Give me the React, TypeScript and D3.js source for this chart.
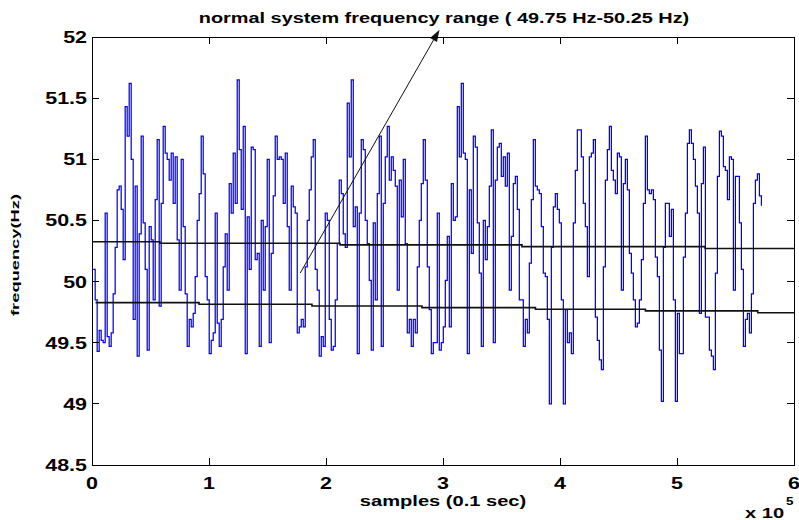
import React from "react";
import * as d3 from "d3";

// frequency samples, one every ~1710 samples
const freqHz = [
  50.10, 49.85, 49.43, 49.60, 49.52, 49.50, 50.56, 49.55, 49.47, 49.58,
  49.90, 50.28, 50.75, 50.78, 50.59, 50.18, 51.43, 51.19, 51.62, 51.00,
  49.69, 50.78, 49.39, 50.39, 51.19, 50.48, 50.10, 49.44, 50.45, 50.34,
  49.85, 50.67, 51.16, 49.80, 50.64, 51.27, 51.05, 51.00, 50.83, 51.05,
  50.64, 51.02, 50.34, 49.93, 51.00, 50.45, 49.90, 49.47, 49.69, 49.63,
  49.74, 50.04, 50.50, 50.72, 51.19, 50.88, 50.04,
  49.85, 49.41, 49.52, 49.58, 50.56, 49.66, 49.47, 49.69, 50.12, 50.39,
  49.93, 50.80, 50.56, 51.05, 50.64, 51.65, 51.08, 50.59, 51.27, 49.41,
  50.53, 50.10, 51.10, 51.08, 50.18, 50.23, 49.47, 50.50, 49.93, 50.45,
  51.00, 49.50, 50.23, 50.70, 51.19, 51.00, 51.02, 51.00, 50.64, 51.05,
  50.45, 49.93, 50.78, 50.61, 50.56, 49.58, 49.63, 49.69, 49.63, 50.12,
  50.50, 50.75, 51.02, 51.16, 50.10, 49.93,
  49.39, 49.55, 49.47, 50.56, 50.50, 49.69, 49.44, 49.47, 49.85, 50.31,
  50.83, 50.72, 50.39, 50.28, 51.46, 51.02, 51.65, 50.45, 50.61, 49.41,
  50.56, 51.16, 51.08, 50.50, 50.31, 50.01, 49.44, 50.48, 49.85, 50.72,
  51.19, 49.47, 50.64, 51.02, 51.27, 50.83, 51.02, 50.91, 50.78, 49.93,
  50.83, 50.53, 51.00, 50.31, 49.58, 49.69, 49.47, 49.69, 49.58, 50.12,
  50.50, 50.80, 51.16, 50.83, 50.12, 49.77, 49.41,
  49.50, 49.50, 50.56, 49.44, 49.50, 49.63, 50.01, 50.37, 49.63, 50.80,
  50.50, 50.53, 51.43, 51.02, 51.62, 51.05, 51.00, 49.41, 50.75, 50.23,
  51.19, 51.10, 50.48, 50.07, 49.47, 50.50, 50.18, 50.45, 50.78, 51.24,
  49.50, 50.83, 51.10, 51.13, 50.86, 51.02, 50.78, 51.05, 49.93, 50.37,
  50.80, 50.86, 50.59, 49.85, 49.85, 49.47, 49.69, 49.58, 50.15, 50.67,
  51.16, 50.78, 50.75, 50.72, 50.45, 50.07,
  50.04, 49.69, 49.00, 50.28, 50.61, 50.72, 50.59, 50.48, 49.85, 49.00,
  49.77, 49.50, 49.58, 49.41, 50.48, 50.91, 51.24, 51.24, 51.02, 50.64,
  50.45, 50.04, 51.02, 51.05, 51.16, 49.71, 49.52, 49.36, 49.28, 50.12,
  50.83, 51.08, 51.27, 50.91, 50.83, 50.72, 51.05, 51.02, 49.93, 50.80,
  51.00, 50.75, 50.23, 50.07, 49.85, 49.63, 49.66, 49.85, 50.18, 50.64,
  51.19, 50.75, 50.72, 50.75, 50.67, 50.20, 50.04,
  49.44, 49.02, 50.28, 50.64, 50.64, 50.37, 50.59, 49.85, 49.02, 49.74,
  49.41, 49.41, 50.20, 50.56, 51.13, 51.24, 51.13, 51.00, 50.78, 50.56,
  49.74, 50.80, 51.10, 49.71, 49.71, 49.44, 49.39, 49.28, 50.07, 50.86,
  51.23, 51.19, 50.94, 50.91, 50.67, 51.02, 51.00, 49.93, 50.86, 50.86,
  50.48, 50.10, 49.47, 49.69, 49.74, 49.58, 49.90, 50.64, 50.83, 50.88,
  50.70, 50.62,
];
const sampleStart = 1000;
const sampleStep = 1710;

// the two slowly drifting band lines (step changes)
const upperBandX = [0, 58000, 212000, 367500, 524000, 600000];
const upperBandHz = [50.326, 50.313, 50.3, 50.286, 50.27, 50.27];
const lowerBandX = [3000, 91500, 188000, 282000, 379000, 473000, 569000, 600000];
const lowerBandHz = [49.828, 49.814, 49.8, 49.787, 49.774, 49.76, 49.745, 49.745];

// annotation arrow (data coords)
const arrowFrom = [178000, 50.07];
const arrowTo = [297000, 52.06];

const xTicks = [0, 100000, 200000, 300000, 400000, 500000, 600000];
const xTickLabels = ["0", "1", "2", "3", "4", "5", "6"];
const yTicks = [48.5, 49, 49.5, 50, 50.5, 51, 51.5, 52];
const yTickLabels = ["48.5", "49", "49.5", "50", "50.5", "51", "51.5", "52"];

const titleText = "normal system frequency range ( 49.75 Hz-50.25 Hz)";
const xLabelText = "samples (0.1 sec)";
const yLabelText = "frequency(Hz)";

const W = 799;
const H = 520;
const left = 92, right = 794, top = 37, bottom = 465;
const FONT = "'Liberation Sans', Arial, Helvetica, sans-serif";

export default function App() {
  const x = d3.scaleLinear().domain([0, 600000]).range([left, right]);
  const y = d3.scaleLinear().domain([48.5, 52]).range([bottom, top]);

  const signal = freqHz.map((v, i) => [sampleStart + i * sampleStep, v]);
  const stepLine = d3
    .line<number[]>()
    .x((d) => x(d[0]))
    .y((d) => y(d[1]))
    .curve(d3.curveStepAfter);

  const upper = upperBandX.map((v, i) => [v, upperBandHz[i]]);
  const lower = lowerBandX.map((v, i) => [v, lowerBandHz[i]]);

  // arrow geometry
  const ax0 = x(arrowFrom[0]), ay0 = y(arrowFrom[1]);
  const ax1 = x(arrowTo[0]), ay1 = y(arrowTo[1]);
  const ang = Math.atan2(ay1 - ay0, ax1 - ax0);
  const headLen = 12, headW = 4;
  const bx = ax1 - headLen * Math.cos(ang), by = ay1 - headLen * Math.sin(ang);
  const head = [
    [ax1, ay1],
    [bx + headW * Math.sin(ang), by - headW * Math.cos(ang)],
    [bx - headW * Math.sin(ang), by + headW * Math.cos(ang)],
  ];

  const sx = 1.34; // text in the reference is stretched horizontally

  return (
    <svg
      width={W}
      height={H}
      style={{ position: "absolute", left: 0, top: 0, background: "#fff" }}
      fontFamily={FONT}
      fontWeight="bold"
    >
      <rect x={0} y={0} width={W} height={H} fill="#fff" />

      {/* signal */}
      <path d={stepLine(signal) || ""} fill="none" stroke="#0000ff" strokeWidth={1.25} />

      {/* band lines */}
      <path d={stepLine(upper) || ""} fill="none" stroke="#111" strokeWidth={1.6} />
      <path d={stepLine(lower) || ""} fill="none" stroke="#111" strokeWidth={1.6} />

      {/* arrow */}
      <line x1={ax0} y1={ay0} x2={bx} y2={by} stroke="#111" strokeWidth={1} />
      <polygon points={head.map((p) => p.join(",")).join(" ")} fill="#111" />

      {/* frame and ticks */}
      <g shapeRendering="crispEdges" stroke="#000" strokeWidth={1}>
        <rect x={left} y={top} width={right - left} height={bottom - top} fill="none" />
        {xTicks.map((t) => (
          <g key={"xt" + t}>
            <line x1={x(t)} x2={x(t)} y1={bottom} y2={bottom - 7} />
            <line x1={x(t)} x2={x(t)} y1={top} y2={top + 7} />
          </g>
        ))}
        {yTicks.map((t) => (
          <g key={"yt" + t}>
            <line x1={left} x2={left + 7} y1={y(t)} y2={y(t)} />
            <line x1={right} x2={right - 7} y1={y(t)} y2={y(t)} />
          </g>
        ))}
      </g>

      {/* tick labels */}
      {xTicks.map((t, i) => (
        <text
          key={"xl" + t}
          transform={`translate(${x(t)},${489}) scale(${sx},1)`}
          textAnchor="middle"
          fontSize={16}
        >
          {xTickLabels[i]}
        </text>
      ))}
      {yTicks.map((t, i) => (
        <text
          key={"yl" + t}
          transform={`translate(${left - 5},${y(t) + 6}) scale(${sx},1)`}
          textAnchor="end"
          fontSize={16}
        >
          {yTickLabels[i]}
        </text>
      ))}

      {/* title and axis labels */}
      <text transform={`translate(444,23) scale(1.42,1)`} textAnchor="middle" fontSize={14}>
        {titleText}
      </text>
      <text transform={`translate(443,506) scale(${sx},1)`} textAnchor="middle" fontSize={15}>
        {xLabelText}
      </text>
      <text transform={`translate(745,518) scale(${sx},1)`} fontSize={15}>
        x 10
      </text>
      <text transform={`translate(786,505) scale(${sx},1)`} fontSize={10}>
        5
      </text>
      <text
        transform={`translate(19,255) rotate(-90)`}
        textAnchor="middle"
        fontSize={11}
        textLength={122}
        lengthAdjust="spacingAndGlyphs"
      >
        {yLabelText}
      </text>
    </svg>
  );
}
